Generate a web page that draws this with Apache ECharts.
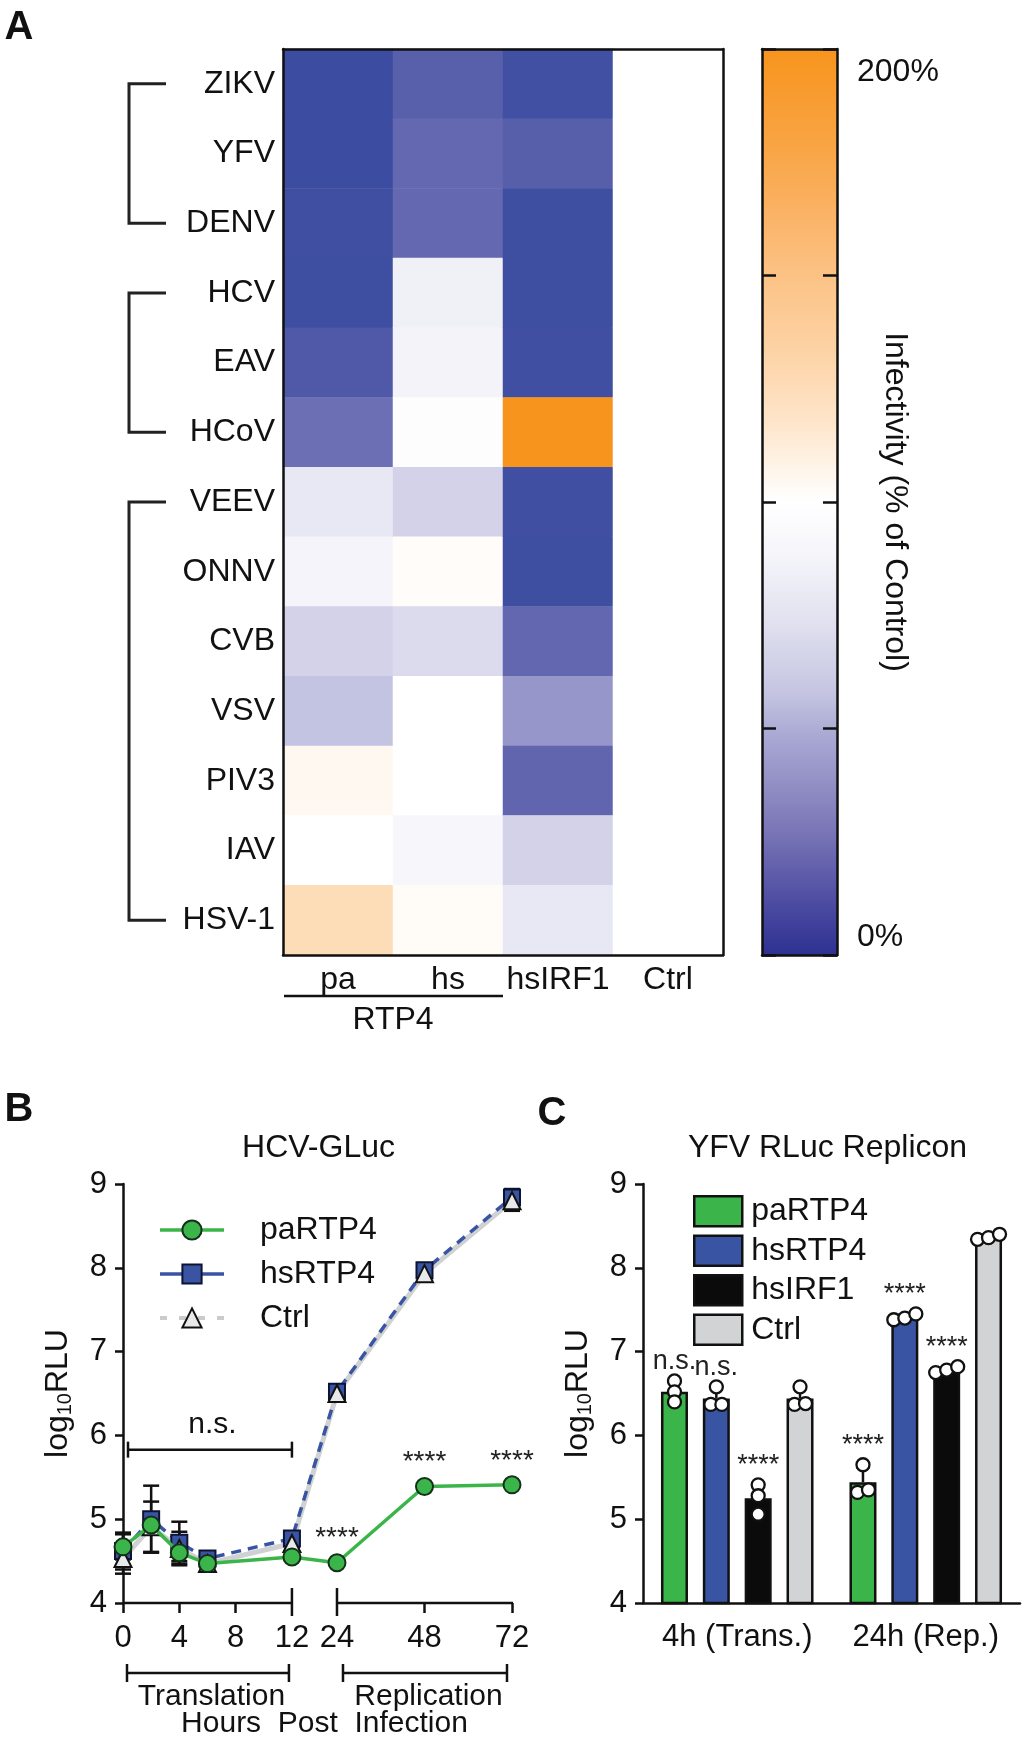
<!DOCTYPE html>
<html>
<head>
<meta charset="utf-8">
<script src="https://cdn.jsdelivr.net/npm/echarts@6.0.0/dist/echarts.min.js"></script>
<style>
html,body{margin:0;padding:0;background:#fff;}
#chart{width:1024px;height:1739px;}
</style>
</head>
<body>
<div id="chart"></div>
<script>
// ---------------- Panel A data ----------------
const viruses = ['ZIKV','YFV','DENV','HCV','EAV','HCoV','VEEV','ONNV','CVB','VSV','PIV3','IAV','HSV-1'];
const conditions = ['pa','hs','hsIRF1','Ctrl'];
const infectPa   = [4, 4, 6, 5, 14, 28, 85, 93, 72, 65, 105, 100, 125];
const infectHs   = [19, 25, 25, 90, 92, 99, 72, 102, 76, 100, 100, 95, 103];
const infectIRF1 = [7, 18, 5, 5, 6, 200, 6, 5, 24, 45, 23, 72, 85];
const infectCtrl = [100, 100, 100, 100, 100, 100, 100, 100, 100, 100, 100, 100, 100];
const virusGroups = [['ZIKV','DENV'], ['HCV','HCoV'], ['VEEV','HSV-1']];
const colorbarTicks = [0, 50, 100, 150, 200];
const colorbarLabels = ['0%', '', '', '', '200%'];

// ---------------- Panel B data ----------------
const hoursB = [0, 2, 4, 6, 12, 24, 48, 72];
const paB   = [4.67, 4.93, 4.60, 4.47, 4.55, 4.48, 5.39, 5.41];
const hsB   = [4.62, 5.00, 4.72, 4.53, 4.77, 6.52, 7.97, 8.84];
const ctrlB = [4.53, 4.91, 4.65, 4.47, 4.71, 6.50, 7.93, 8.80];
const paErrB   = [0.15, 0.10, 0.10, 0.03, 0.03, 0.03, 0.03, 0.03];
const hsErrB   = [0.22, 0.40, 0.25, 0.05, 0.08, 0.05, 0.05, 0.10];
const ctrlErrB = [0.18, 0.30, 0.20, 0.05, 0.05, 0.05, 0.05, 0.12];
const sigB = ['', '', '', '', '', '****', '****', '****'];
const tickHoursB = [0, 4, 8, 12, 24, 48, 72];
const yTicks = [4, 5, 6, 7, 8, 9];

// ---------------- Panel C data ----------------
const groupsC = ['4h (Trans.)', '24h (Rep.)'];
const namesC = ['paRTP4', 'hsRTP4', 'hsIRF1', 'Ctrl'];
const meanPaC   = [6.52, 5.44];
const meanHsC   = [6.44, 7.41];
const meanIrfC  = [5.25, 6.78];
const meanCtrlC = [6.44, 8.37];
const sdPaC   = [0.12, 0.18];
const sdHsC   = [0.14, 0.03];
const sdIrfC  = [0.17, 0.03];
const sdCtrlC = [0.13, 0.03];
const ptsPaC   = [[6.65, 6.52, 6.40], [5.65, 5.32, 5.35]];
const ptsHsC   = [[6.58, 6.37, 6.37], [7.38, 7.40, 7.45]];
const ptsIrfC  = [[5.41, 5.28, 5.06], [6.75, 6.78, 6.82]];
const ptsCtrlC = [[6.58, 6.37, 6.38], [8.34, 8.36, 8.40]];
const sigC = [['n.s.', 'n.s.', '****', ''], ['****', '****', '****', '']];

// ---------------- styles ----------------
const FONT = '"Liberation Sans", Arial, Helvetica, sans-serif';
const INK = '#111111';
const GREEN = '#3bb54a', BLUE = '#3a54a4', BLACKBAR = '#0b0b0b', GREYBAR = '#d1d3d4', GREYLINE = '#cfd1d2';
const cellPalette = ['#34479d', '#6468b0', '#a3a2d2', '#d9d9ec', '#ffffff', '#fddcb8', '#fcc285', '#f9a443', '#f7941d'];
const colorbarStops = [
  [0, '#2e3192'], [0.062, '#4f4ea3'], [0.1375, '#7a76b7'], [0.25, '#aeadd6'], [0.29, '#c5c5e2'],
  [0.365, '#e0e0ef'], [0.445, '#f6f6fb'], [0.5, '#ffffff'], [0.585, '#fee6cc'], [0.665, '#fdd3a6'],
  [0.75, '#fcc285'], [0.83, '#fab060'], [0.895, '#f9a443'], [1, '#f7941d']
];
const BAR_W = 27, BAR_GAP = 0.55, STEP = BAR_W * (1 + BAR_GAP);
const B_TOP = 1184, B_H = 419;

// broken time axis (0-12 h at full scale, 24-72 h compressed)
const BREAK_FROM = 12, BREAK_TO = 24, BREAK_GAP = 3.2, LATE_SCALE = 0.259;
function brk(h) { return h <= BREAK_FROM ? h : BREAK_FROM + BREAK_GAP + (h - BREAK_TO) * LATE_SCALE; }

// ---------------- build series data ----------------
const heatCols = [infectPa, infectHs, infectIRF1, infectCtrl];
const heatData = [];
heatCols.forEach((col, ci) => col.forEach((v, ri) => heatData.push([ci, ri, v])));

const lineData = arr => hoursB.map((h, i) => [brk(h), arr[i]]);
const errBData = [];
[[paB, paErrB], [hsB, hsErrB], [ctrlB, ctrlErrB]].forEach(([m, e]) =>
  hoursB.forEach((h, i) => errBData.push([brk(h), m[i], e[i]])));
const sigBData = [];
hoursB.forEach((h, i) => { if (sigB[i]) sigBData.push([brk(h), paB[i], i]); });
const nsLevel = Math.max(...hoursB.map((h, i) => h <= 12 ? Math.max(hsB[i] + hsErrB[i], ctrlB[i] + ctrlErrB[i], paB[i] + paErrB[i]) : 0)) + 0.43;

const meansC = [meanPaC, meanHsC, meanIrfC, meanCtrlC];
const sdsC = [sdPaC, sdHsC, sdIrfC, sdCtrlC];
const ptsC = [ptsPaC, ptsHsC, ptsIrfC, ptsCtrlC];
const barColors = [GREEN, BLUE, BLACKBAR, GREYBAR];

function jitter(vals) {
  const idx = vals.map((v, i) => i).sort((a, b) => vals[a] - vals[b]);
  const clusters = []; let cur = [idx[0]];
  for (let k = 1; k < idx.length; k++) {
    if (vals[idx[k]] - vals[idx[k - 1]] < 0.09) cur.push(idx[k]); else { clusters.push(cur); cur = [idx[k]]; }
  }
  clusters.push(cur);
  const off = vals.map(() => 0);
  clusters.forEach(c => c.forEach((i, j) => { off[i] = (j - (c.length - 1) / 2) * 11; }));
  return off;
}
const errCData = [], ptCData = [], sigCData = [];
for (let c = 0; c < groupsC.length; c++) {
  for (let b = 0; b < namesC.length; b++) {
    errCData.push([c, b, meansC[b][c], sdsC[b][c]]);
    const vals = ptsC[b][c];
    const off = jitter(vals);
    vals.forEach((v, k) => ptCData.push([c, b, v, off[k]]));
    if (sigC[c][b]) sigCData.push([c, b, Math.max(...vals)]);
  }
}

const axisLineStyle = { color: INK, width: 2.5 };
const noAxisBits = { axisTick: { show: false }, axisLabel: { show: false }, splitLine: { show: false } };
const logName = '{a|log}{b|10}{a|RLU}';
const logNameStyle = { rich: { a: { fontSize: 32, fontFamily: FONT, color: INK }, b: { fontSize: 20, fontFamily: FONT, color: INK, padding: [14, 0, 0, 0] } } };

const option = {
  animation: false,
  backgroundColor: '#ffffff',
  textStyle: { fontFamily: FONT, color: INK },
  grid: [
    { left: 283, top: 49, width: 440, height: 906, containLabel: false, outerBoundsMode: 'none' },
    { left: 762, top: 49, width: 75, height: 906, containLabel: false, outerBoundsMode: 'none' },
    { left: 123, top: B_TOP, width: 389, height: B_H, containLabel: false, outerBoundsMode: 'none' },
    { left: 643, top: B_TOP, width: 377, height: B_H, containLabel: false, outerBoundsMode: 'none' }
  ],
  xAxis: [
    { type: 'category', gridIndex: 0, data: conditions, position: 'bottom', z: 6,
      axisLine: { show: true, onZero: false, lineStyle: axisLineStyle }, axisTick: { show: false },
      axisLabel: { interval: 0, fontSize: 32, color: INK, margin: 9, fontFamily: FONT }, splitLine: { show: false } },
    Object.assign({ type: 'category', gridIndex: 0, data: conditions, position: 'top', z: 6,
      axisLine: { show: true, onZero: false, lineStyle: axisLineStyle } }, noAxisBits),
    Object.assign({ type: 'value', gridIndex: 1, min: 0, max: 1, position: 'bottom', z: 6,
      axisLine: { show: true, onZero: false, lineStyle: axisLineStyle } }, noAxisBits),
    Object.assign({ type: 'value', gridIndex: 1, min: 0, max: 1, position: 'top', z: 6,
      axisLine: { show: true, onZero: false, lineStyle: axisLineStyle } }, noAxisBits),
    { type: 'value', gridIndex: 2, min: 0, max: brk(72), position: 'bottom',
      axisLine: { show: false, onZero: false },
      axisTick: { show: true, length: 10, customValues: [0, 4, 8, 48, 72].map(brk), lineStyle: axisLineStyle },
      axisLabel: { show: true, customValues: tickHoursB.map(brk), fontSize: 31, color: INK, margin: 20, fontFamily: FONT,
        formatter: v => { const i = tickHoursB.findIndex(h => Math.abs(brk(h) - v) < 1e-6); return i < 0 ? '' : String(tickHoursB[i]); } },
      splitLine: { show: false } },
    { type: 'category', gridIndex: 3, data: groupsC, position: 'bottom',
      axisLine: { show: true, onZero: false, lineStyle: axisLineStyle }, axisTick: { show: false },
      axisLabel: { interval: 0, fontSize: 31, color: INK, margin: 19, fontFamily: FONT }, splitLine: { show: false } }
  ],
  yAxis: [
    { type: 'category', gridIndex: 0, data: viruses, inverse: true, position: 'left', z: 6,
      axisLine: { show: true, onZero: false, lineStyle: axisLineStyle }, axisTick: { show: false },
      axisLabel: { interval: 0, fontSize: 32, color: INK, margin: 8, fontFamily: FONT }, splitLine: { show: false } },
    Object.assign({ type: 'category', gridIndex: 0, data: viruses, inverse: true, position: 'right', z: 6,
      axisLine: { show: true, onZero: false, lineStyle: axisLineStyle } }, noAxisBits),
    { type: 'value', gridIndex: 1, min: 0, max: 200, interval: 50, position: 'left', z: 6,
      axisLine: { show: true, onZero: false, lineStyle: axisLineStyle },
      axisTick: { show: true, inside: true, length: 14, lineStyle: axisLineStyle },
      axisLabel: { show: false }, splitLine: { show: false } },
    { type: 'value', gridIndex: 1, min: 0, max: 200, interval: 50, position: 'right', z: 6,
      axisLine: { show: true, onZero: false, lineStyle: axisLineStyle },
      axisTick: { show: true, inside: true, length: 14, lineStyle: axisLineStyle },
      axisLabel: { show: true, margin: 20, color: INK, fontSize: 32, fontFamily: FONT,
        formatter: v => { const t = colorbarLabels[colorbarTicks.indexOf(v)] || ''; if (!t) return ''; return v === 200 ? '{top|' + t + '}' : '{bot|' + t + '}'; },
        rich: { top: { fontSize: 32, fontFamily: FONT, color: INK, padding: [46, 0, 0, 0] },
                bot: { fontSize: 32, fontFamily: FONT, color: INK, padding: [0, 0, 36, 0] } } },
      name: 'Infectivity (% of Control)', nameLocation: 'middle', nameRotate: -90, nameGap: 42, nameMoveOverlap: false,
      nameTextStyle: { fontSize: 32, color: INK, fontFamily: FONT },
      splitLine: { show: false } },
    { type: 'value', gridIndex: 2, min: 4, max: 9, interval: 1, position: 'left',
      axisLine: { show: true, onZero: false, lineStyle: axisLineStyle },
      axisTick: { show: true, length: 8, lineStyle: axisLineStyle },
      axisLabel: { fontSize: 31, color: INK, margin: 16, fontFamily: FONT, formatter: v => yTicks.includes(v) ? String(v) : '' },
      name: logName, nameLocation: 'middle', nameGap: 48, nameMoveOverlap: false, nameTextStyle: logNameStyle,
      splitLine: { show: false } },
    { type: 'value', gridIndex: 3, min: 4, max: 9, interval: 1, position: 'left',
      axisLine: { show: true, onZero: false, lineStyle: axisLineStyle },
      axisTick: { show: true, length: 8, lineStyle: axisLineStyle },
      axisLabel: { fontSize: 31, color: INK, margin: 16, fontFamily: FONT, formatter: v => yTicks.includes(v) ? String(v) : '' },
      name: logName, nameLocation: 'middle', nameGap: 48, nameMoveOverlap: false, nameTextStyle: logNameStyle,
      splitLine: { show: false } }
  ],
  visualMap: [{
    type: 'continuous', show: false, min: 0, max: 200, dimension: 2, seriesIndex: 0,
    inRange: { color: cellPalette }
  }],
  legend: [
    { orient: 'vertical', left: 158, top: 1214, padding: 0, itemWidth: 64, itemHeight: 24, itemGap: 12,
      selectedMode: false,
      textStyle: { fontSize: 32, color: INK, fontFamily: FONT, padding: [0, 0, 0, 31] },
      data: [
        { name: 'paRTP4', lineStyle: { width: 3.5 } },
        { name: 'hsRTP4', lineStyle: { width: 3.5, type: 'solid' } },
        { name: 'Ctrl', lineStyle: { width: 4, color: '#c9cbcc', type: [7, 12], opacity: 1 } }
      ] },
    { orient: 'vertical', left: 693, top: 1195, padding: 0, itemWidth: 48, itemHeight: 30, itemGap: 7,
      selectedMode: false, icon: 'rect',
      itemStyle: { borderColor: INK, borderWidth: 2.5 },
      formatter: n => n.replace('c_', ''),
      textStyle: { fontSize: 32, color: INK, fontFamily: FONT, padding: [0, 0, 0, 4] },
      data: namesC.map(n => 'c_' + n) }
  ],
  series: [
    { type: 'heatmap', xAxisIndex: 0, yAxisIndex: 0, data: heatData, itemStyle: { borderWidth: 0 },
      emphasis: { disabled: true }, z: 2 },
    // Panel B
    { type: 'line', name: 'paRTP4', xAxisIndex: 4, yAxisIndex: 4, data: lineData(paB), clip: false,
      symbol: 'circle', symbolSize: 17, z: 7,
      lineStyle: { color: GREEN, width: 3.5 }, itemStyle: { color: GREEN, borderColor: '#14301a', borderWidth: 2 } },
    { type: 'line', name: 'hsRTP4', xAxisIndex: 4, yAxisIndex: 4, data: lineData(hsB), clip: false,
      symbol: 'rect', symbolSize: 16, z: 5,
      lineStyle: { color: BLUE, width: 3.5, type: [10, 7] }, itemStyle: { color: BLUE, borderColor: '#0d1433', borderWidth: 2 } },
    { type: 'line', name: 'Ctrl', xAxisIndex: 4, yAxisIndex: 4, data: lineData(ctrlB), clip: false,
      symbol: 'triangle', symbolSize: 17, z: 6,
      lineStyle: { width: 0, color: '#c9cbcc' }, itemStyle: { color: '#e8e9ea', borderColor: INK, borderWidth: 2 } },
    { type: 'line', name: 'Ctrl', xAxisIndex: 4, yAxisIndex: 4, data: lineData(ctrlB), clip: false,
      symbol: 'none', z: 4, lineStyle: { color: GREYLINE, width: 5 } },
    { type: 'custom', name: 'errB', xAxisIndex: 4, yAxisIndex: 4, data: errBData, encode: { x: 0, y: 1 }, clip: false, z: 3,
      renderItem: (p, api) => {
        const x = api.value(0), m = api.value(1), e = api.value(2);
        const t = api.coord([x, m + e]), b = api.coord([x, m - e]);
        const st = { stroke: INK, lineWidth: 2.5 };
        return { type: 'group', children: [
          { type: 'line', shape: { x1: t[0], y1: t[1], x2: b[0], y2: b[1] }, style: st },
          { type: 'line', shape: { x1: t[0] - 8, y1: t[1], x2: t[0] + 8, y2: t[1] }, style: st },
          { type: 'line', shape: { x1: b[0] - 8, y1: b[1], x2: b[0] + 8, y2: b[1] }, style: st }
        ] };
      } },
    { type: 'custom', name: 'sigB', xAxisIndex: 4, yAxisIndex: 4, data: sigBData, encode: { x: 0, y: 1 }, clip: false, z: 8,
      renderItem: (p, api) => {
        const c = api.coord([api.value(0), api.value(1)]);
        return { type: 'text', x: c[0], y: c[1] - 10,
          style: { text: sigB[api.value(2)], fontSize: 28, fontFamily: FONT, fill: '#222', align: 'center', verticalAlign: 'bottom' } };
      } },
    { type: 'custom', name: 'nsB', xAxisIndex: 4, yAxisIndex: 4, data: [[brk(0), brk(12), nsLevel]], encode: { x: [0, 1], y: 2 }, clip: false, z: 8,
      renderItem: (p, api) => {
        const a = api.coord([api.value(0), api.value(2)]), b = api.coord([api.value(1), api.value(2)]);
        const st = { stroke: INK, lineWidth: 2.5 };
        return { type: 'group', children: [
          { type: 'line', shape: { x1: a[0] + 5, y1: a[1], x2: b[0], y2: b[1] }, style: st },
          { type: 'line', shape: { x1: a[0] + 5, y1: a[1] - 8, x2: a[0] + 5, y2: a[1] + 8 }, style: st },
          { type: 'line', shape: { x1: b[0], y1: b[1] - 8, x2: b[0], y2: b[1] + 8 }, style: st },
          { type: 'text', x: (a[0] + b[0]) / 2 + 5, y: a[1] - 10,
            style: { text: 'n.s.', fontSize: 30, fontFamily: FONT, fill: INK, align: 'center', verticalAlign: 'bottom' } }
        ] };
      } },
    // Panel C bars
    ...namesC.map((n, b) => ({
      type: 'bar', name: 'c_' + n, xAxisIndex: 5, yAxisIndex: 5, data: meansC[b],
      barWidth: BAR_W, barGap: (BAR_GAP * 100) + '%', z: 3,
      itemStyle: { color: barColors[b], borderColor: INK, borderWidth: 2.5 }
    })),
    { type: 'custom', name: 'errC', xAxisIndex: 5, yAxisIndex: 5, data: errCData, encode: { x: 0, y: 2 }, clip: false, z: 4,
      renderItem: (p, api) => {
        const dx = (api.value(1) - 1.5) * STEP;
        const m = api.coord([api.value(0), api.value(2)]), t = api.coord([api.value(0), api.value(2) + api.value(3)]);
        const x = m[0] + dx, st = { stroke: INK, lineWidth: 2.5 };
        return { type: 'group', children: [
          { type: 'line', shape: { x1: x, y1: m[1], x2: x, y2: t[1] }, style: st },
          { type: 'line', shape: { x1: x - 7, y1: t[1], x2: x + 7, y2: t[1] }, style: st }
        ] };
      } },
    { type: 'custom', name: 'ptsC', xAxisIndex: 5, yAxisIndex: 5, data: ptCData, encode: { x: 0, y: 2 }, clip: false, z: 5,
      renderItem: (p, api) => {
        const dx = (api.value(1) - 1.5) * STEP + api.value(3);
        const c = api.coord([api.value(0), api.value(2)]);
        return { type: 'circle', shape: { cx: c[0] + dx, cy: c[1], r: 6.5 }, style: { fill: '#ffffff', stroke: INK, lineWidth: 2.3 } };
      } },
    { type: 'custom', name: 'sigC', xAxisIndex: 5, yAxisIndex: 5, data: sigCData, encode: { x: 0, y: 2 }, clip: false, z: 6,
      renderItem: (p, api) => {
        const cat = api.value(0), bar = api.value(1);
        const dx = (bar - 1.5) * STEP;
        const c = api.coord([cat, api.value(2)]);
        return { type: 'text', x: c[0] + dx, y: c[1] - 6,
          style: { text: sigC[cat][bar], fontSize: 27, fontFamily: FONT, fill: '#222', align: 'center', verticalAlign: 'bottom' } };
      } }
  ]
};

const chart = echarts.init(document.getElementById('chart'), null, { renderer: 'canvas' });
chart.setOption(option);

// ---------------- annotations positioned through the axes ----------------
const g = [];
const txt = (x, y, text, size, extra) => ({ type: 'text', x, y, z: 20,
  style: Object.assign({ text, fontSize: size, fontFamily: FONT, fill: INK, align: 'center', verticalAlign: 'middle' }, extra || {}) });
const ln = (x1, y1, x2, y2) => ({ type: 'line', z: 20, shape: { x1, y1, x2, y2 }, style: { stroke: INK, lineWidth: 2.5 } });

// Panel A geometry
const colX = c => chart.convertToPixel({ xAxisIndex: 0 }, c);
const rowY = v => chart.convertToPixel({ yAxisIndex: 0 }, v);
const colW = colX('hs') - colX('pa');
const rowH = rowY('YFV') - rowY('ZIKV');
const heatLeft = colX('pa') - colW / 2;
const heatBottom = rowY('HSV-1') + rowH / 2;
virusGroups.forEach(([a, b]) => {
  const ya = rowY(a), yb = rowY(b), vx = heatLeft - 154, ax = heatLeft - 117;
  g.push({ type: 'polyline', z: 20, shape: { points: [[ax, ya], [vx, ya], [vx, yb], [ax, yb]] },
    style: { stroke: '#222', lineWidth: 3, fill: null } });
});
g.push(ln(heatLeft + 1, heatBottom + 41, heatLeft + 2 * colW, heatBottom + 41));
g.push(txt(heatLeft + colW, heatBottom + 65, 'RTP4', 32));

// colour bar fill
const cbTop = chart.convertToPixel({ yAxisIndex: 2 }, 200), cbBot = chart.convertToPixel({ yAxisIndex: 2 }, 0);
const cbL = chart.convertToPixel({ xAxisIndex: 2 }, 0), cbR = chart.convertToPixel({ xAxisIndex: 2 }, 1);
g.push({ type: 'rect', z: 1, shape: { x: cbL, y: cbTop, width: cbR - cbL, height: cbBot - cbTop },
  style: { fill: new echarts.graphic.LinearGradient(0, 1, 0, 0, colorbarStops.map(([o, c]) => ({ offset: o, color: c }))) } });

// Panel B broken axis
const xb = h => chart.convertToPixel({ xAxisIndex: 4 }, brk(h));
const yB4 = chart.convertToPixel({ yAxisIndex: 4 }, 4), yB9 = chart.convertToPixel({ yAxisIndex: 4 }, 9);
g.push(ln(xb(0), yB4, xb(12), yB4));
g.push(ln(xb(24), yB4, xb(72) + 1, yB4));
g.push(ln(xb(12), yB4 - 15, xb(12), yB4 + 13));
g.push(ln(xb(24), yB4 - 15, xb(24), yB4 + 13));
const brY = yB4 + 70;
[[xb(0) + 4, xb(12) - 3], [xb(24) + 6, xb(72) - 5]].forEach(([a, b]) => {
  g.push(ln(a, brY, b, brY)); g.push(ln(a, brY - 9, a, brY + 9)); g.push(ln(b, brY - 9, b, brY + 9));
});
g.push(txt((xb(0) + xb(12)) / 2 + 4, yB4 + 94, 'Translation', 30));
g.push(txt((xb(24) + xb(72)) / 2 + 4, yB4 + 94, 'Replication', 30));
g.push(txt((xb(0) + xb(72)) / 2 + 7, yB4 + 121, 'Hours  Post  Infection', 30));
g.push(txt((xb(0) + xb(72)) / 2 + 1, yB9 - 36, 'HCV-GLuc', 32));

// Panel C title
const cL = chart.convertToPixel({ xAxisIndex: 5 }, 0), cR = chart.convertToPixel({ xAxisIndex: 5 }, 1);
g.push(txt((cL + cR) / 2 - 4, yB9 - 36, 'YFV RLuc Replicon', 32));

// panel letters
g.push(txt(19, 28, 'A', 40, { fontWeight: 'bold' }));
g.push(txt(19, yB9 - 74, 'B', 40, { fontWeight: 'bold' }));
g.push(txt(552, yB9 - 70, 'C', 40, { fontWeight: 'bold' }));

chart.setOption({ graphic: g });
</script>
</body>
</html>
